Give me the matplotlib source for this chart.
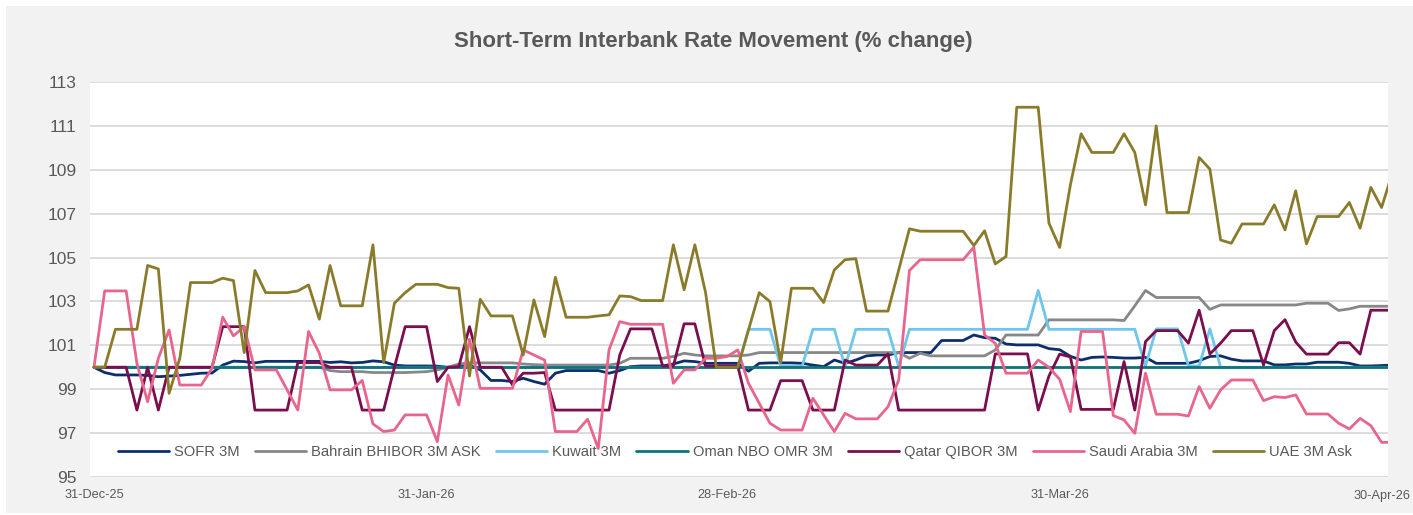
import pandas as pd
import matplotlib.pyplot as plt
import matplotlib.dates as mdates
from matplotlib.patches import Rectangle

# daily observations, 31-Dec-25 .. 01-May-26
dates = pd.date_range('2025-12-31', '2026-05-01', freq='D')

sofr = [100.0, 99.76, 99.65, 99.65, 99.65, 99.63, 99.57, 99.6, 99.63, 99.68,
        99.73, 99.74, 100.1, 100.28, 100.26, 100.2, 100.27, 100.27, 100.27, 100.27,
        100.27, 100.27, 100.22, 100.25, 100.2, 100.22, 100.29, 100.25, 100.1, 100.06,
        100.06, 100.06, 100.05, 100.0, 100.03, 100.1, 99.88, 99.4, 99.4, 99.35,
        99.5, 99.35, 99.23, 99.73, 99.85, 99.85, 99.85, 99.85, 99.73, 99.85,
        100.03, 100.06, 100.06, 100.06, 100.15, 100.29, 100.26, 100.18, 100.18, 100.18,
        100.18, 99.82, 100.18, 100.2, 100.2, 100.2, 100.18, 100.1, 100.03, 100.33,
        100.18, 100.33, 100.52, 100.56, 100.56, 100.67, 100.67, 100.67, 100.67, 101.22,
        101.22, 101.22, 101.47, 101.35, 101.32, 101.06, 101.02, 101.02, 101.02, 100.85,
        100.8, 100.5, 100.33, 100.45, 100.47, 100.45, 100.42, 100.42, 100.45, 100.18,
        100.18, 100.18, 100.18, 100.3, 100.49, 100.52, 100.37, 100.29, 100.29, 100.29,
        100.11, 100.11, 100.15, 100.15, 100.23, 100.23, 100.23, 100.18, 100.06, 100.06,
        100.08, 100.1]

bahrain = [100.0, 100.0, 100.0, 100.0, 100.0, 100.0, 100.0, 100.0, 100.0, 100.0,
           100.0, 100.0, 100.0, 100.0, 100.0, 100.0, 100.0, 100.0, 100.0, 100.0,
           100.0, 100.0, 99.85, 99.8, 99.8, 99.8, 99.76, 99.76, 99.76, 99.76,
           99.78, 99.8, 99.88, 100.0, 100.15, 100.2, 100.2, 100.2, 100.2, 100.2,
           100.15, 100.12, 100.1, 100.1, 100.1, 100.1, 100.1, 100.1, 100.1, 100.18,
           100.41, 100.41, 100.41, 100.41, 100.49, 100.64, 100.56, 100.52, 100.52, 100.52,
           100.52, 100.56, 100.67, 100.67, 100.67, 100.67, 100.67, 100.67, 100.67, 100.67,
           100.67, 100.67, 100.67, 100.67, 100.67, 100.67, 100.41, 100.64, 100.52, 100.52,
           100.52, 100.52, 100.52, 100.52, 100.79, 101.47, 101.47, 101.47, 101.47, 102.16,
           102.16, 102.16, 102.16, 102.16, 102.16, 102.16, 102.13, 102.8, 103.5, 103.18,
           103.18, 103.18, 103.18, 103.18, 102.64, 102.84, 102.84, 102.84, 102.84, 102.84,
           102.84, 102.84, 102.84, 102.92, 102.92, 102.92, 102.59, 102.66, 102.78, 102.78,
           102.78, 102.78]

kuwait = [100.0, 100.0, 100.0, 100.0, 100.0, 100.0, 100.0, 100.0, 100.0, 100.0,
          100.0, 100.0, 100.0, 100.0, 100.0, 100.0, 100.0, 100.0, 100.0, 100.0,
          100.0, 100.0, 100.0, 100.0, 100.0, 100.0, 100.0, 100.0, 100.0, 100.0,
          100.0, 100.0, 100.0, 100.0, 100.0, 100.0, 100.0, 100.0, 100.0, 100.0,
          100.0, 100.0, 100.0, 100.0, 100.0, 100.0, 100.0, 100.0, 100.0, 100.0,
          100.0, 100.0, 100.0, 100.0, 100.0, 100.0, 100.0, 100.0, 100.0, 100.0,
          100.0, 101.73, 101.73, 101.73, 100.05, 100.05, 100.05, 101.73, 101.73, 101.73,
          100.02, 101.73, 101.73, 101.73, 101.73, 100.03, 101.73, 101.73, 101.73, 101.73,
          101.73, 101.73, 101.73, 101.73, 101.73, 101.73, 101.73, 101.73, 103.5, 101.73,
          101.73, 101.73, 101.73, 101.73, 101.73, 101.73, 101.73, 101.73, 100.06, 101.75,
          101.75, 101.75, 100.06, 100.06, 101.75, 100.0, 100.0, 100.0, 100.0, 100.0,
          100.0, 100.0, 100.0, 100.0, 100.0, 100.0, 100.0, 100.0, 100.0, 100.0,
          100.0, 100.0]

oman = [100.0, 100.0, 100.0, 100.0, 100.0, 100.0, 100.0, 100.0, 100.0, 100.0,
        100.0, 100.0, 100.0, 100.0, 100.0, 100.0, 100.0, 100.0, 100.0, 100.0,
        100.0, 100.0, 100.0, 100.0, 100.0, 100.0, 100.0, 100.0, 100.0, 100.0,
        100.0, 100.0, 100.0, 100.0, 100.0, 100.0, 100.0, 100.0, 100.0, 100.0,
        100.0, 100.0, 100.0, 100.0, 100.0, 100.0, 100.0, 100.0, 100.0, 100.0,
        100.0, 100.0, 100.0, 100.0, 100.0, 100.0, 100.0, 100.0, 100.0, 100.0,
        100.0, 100.0, 100.0, 100.0, 100.0, 100.0, 100.0, 100.0, 100.0, 100.0,
        100.0, 100.0, 100.0, 100.0, 100.0, 100.0, 100.0, 100.0, 100.0, 100.0,
        100.0, 100.0, 100.0, 100.0, 100.0, 100.0, 100.0, 100.0, 100.0, 100.0,
        100.0, 100.0, 100.0, 100.0, 100.0, 100.0, 100.0, 100.0, 100.0, 100.0,
        100.0, 100.0, 100.0, 100.0, 100.0, 100.0, 100.0, 100.0, 100.0, 100.0,
        100.0, 100.0, 100.0, 100.0, 100.0, 100.0, 100.0, 100.0, 100.0, 100.0,
        100.0, 100.0]

qatar = [100.0, 100.0, 100.0, 100.0, 98.05, 100.0, 98.05, 100.0, 100.0, 100.0,
         100.0, 100.0, 101.85, 101.85, 101.85, 98.05, 98.05, 98.05, 98.05, 100.21,
         100.21, 100.21, 100.0, 100.0, 100.0, 98.05, 98.05, 98.05, 100.0, 101.85,
         101.85, 101.85, 99.35, 100.0, 100.03, 101.85, 100.0, 100.0, 100.0, 99.2,
         99.73, 99.73, 99.76, 98.05, 98.05, 98.05, 98.05, 98.05, 98.05, 100.56,
         101.75, 101.75, 101.75, 100.06, 100.06, 101.98, 101.98, 100.06, 100.06, 100.06,
         100.06, 98.05, 98.05, 98.05, 99.39, 99.39, 99.39, 98.05, 98.05, 98.05,
         100.33, 100.1, 100.1, 100.1, 100.61, 98.05, 98.05, 98.05, 98.05, 98.05,
         98.05, 98.05, 98.05, 98.05, 100.61, 100.61, 100.61, 100.61, 98.05, 99.6,
         100.6, 100.47, 98.08, 98.08, 98.08, 98.08, 100.26, 98.05, 101.17, 101.67,
         101.67, 101.67, 101.1, 102.6, 100.6, 101.1, 101.67, 101.67, 101.67, 100.1,
         101.67, 102.17, 101.15, 100.6, 100.6, 100.6, 101.12, 101.12, 100.6, 102.6,
         102.6, 102.6]

saudi = [100.0, 103.48, 103.48, 103.48, 100.18, 98.43, 100.41, 101.7, 99.19, 99.19,
         99.19, 99.95, 102.28, 101.43, 101.85, 99.88, 99.88, 99.88, 98.97, 98.05,
         101.63, 100.64, 98.97, 98.97, 98.97, 99.4, 97.42, 97.07, 97.14, 97.83,
         97.83, 97.83, 96.61, 99.65, 98.28, 101.28, 99.04, 99.04, 99.04, 99.04,
         100.79, 100.56, 100.33, 97.07, 97.07, 97.07, 97.63, 96.3, 100.79, 102.08,
         101.96, 101.96, 101.96, 101.96, 99.27, 99.88, 99.88, 100.41, 100.41, 100.49,
         100.79, 99.27, 98.36, 97.45, 97.14, 97.14, 97.14, 98.59, 97.83, 97.07,
         97.9, 97.65, 97.65, 97.65, 98.2, 99.42, 104.41, 104.9, 104.9, 104.9,
         104.9, 104.9, 105.47, 101.47, 101.09, 99.73, 99.73, 99.73, 100.33, 100.0,
         99.45, 97.98, 101.63, 101.63, 101.63, 97.8, 97.6, 96.99, 99.73, 97.86,
         97.86, 97.86, 97.78, 99.12, 98.13, 98.97, 99.42, 99.42, 99.42, 98.48,
         98.66, 98.62, 98.74, 97.87, 97.87, 97.87, 97.45, 97.19, 97.67, 97.34,
         96.58, 96.58]

uae = [100.0, 100.0, 101.73, 101.73, 101.73, 104.64, 104.48, 98.81, 100.41, 103.86,
       103.86, 103.86, 104.06, 103.95, 100.67, 104.41, 103.4, 103.4, 103.4, 103.48,
       103.75, 102.19, 104.64, 102.8, 102.8, 102.8, 105.58, 100.21, 102.92, 103.4,
       103.78, 103.78, 103.78, 103.63, 103.6, 99.6, 103.1, 102.34, 102.34, 102.34,
       100.56, 103.07, 101.4, 104.1, 102.28, 102.28, 102.28, 102.34, 102.39, 103.25,
       103.22, 103.04, 103.04, 103.04, 105.58, 103.53, 105.58, 103.4, 100.0, 100.0,
       100.0, 101.7, 103.4, 102.99, 100.21, 103.6, 103.6, 103.6, 102.95, 104.44,
       104.9, 104.95, 102.56, 102.56, 102.56, 104.43, 106.31, 106.2, 106.2, 106.2,
       106.2, 106.2, 105.55, 106.22, 104.71, 105.05, 111.85, 111.85, 111.85, 106.57,
       105.46, 108.31, 110.64, 109.79, 109.79, 109.79, 110.64, 109.79, 107.4, 111.0,
       107.05, 107.05, 107.05, 109.56, 109.03, 105.8, 105.65, 106.53, 106.53, 106.53,
       107.4, 106.26, 108.04, 105.62, 106.87, 106.87, 106.87, 107.51, 106.34, 108.2,
       107.28, 108.84]

labels = ['SOFR 3M', 'Bahrain BHIBOR 3M ASK', 'Kuwait 3M', 'Oman NBO OMR 3M',
          'Qatar QIBOR 3M', 'Saudi Arabia 3M', 'UAE 3M Ask']
colors = ['#0c2f6b', '#878787', '#6ec6ec', '#0b7479', '#7a0e4e', '#e8658c', '#8a7b2b']
tick_dates = ['2025-12-31', '2026-01-31', '2026-02-28', '2026-03-31', '2026-04-30']

sans = ['Liberation Sans', 'DejaVu Sans']
txt = '#595959'

W, H = 1413, 515
fig = plt.figure(figsize=(W / 100, H / 100), dpi=100, facecolor='white')
fig.patches.append(Rectangle((6 / W, 2 / H), (W - 6) / W, (H - 8) / H,
                             transform=fig.transFigure, facecolor='#f2f2f2',
                             edgecolor='none', zorder=-10))

ax = fig.add_axes([90 / W, 38 / H, 1298 / W, 395 / H])
ax.set_facecolor('white')

for vals, lab, col in zip([sofr, bahrain, kuwait, oman, qatar, saudi, uae], labels, colors):
    ax.plot(dates, vals, color=col, lw=2.0, label=lab,
            solid_joinstyle='round', solid_capstyle='round')

x0 = mdates.date2num(dates[0])
ax.set_xlim(x0 - 0.37, x0 + 120.6)
ax.set_ylim(95, 113)
ax.set_yticks(range(95, 114, 2))
ax.set_xticks(mdates.date2num(pd.to_datetime(tick_dates)))
ax.xaxis.set_major_formatter(mdates.DateFormatter('%d-%b-%y'))

ax.yaxis.grid(True, color='#d9d9d9', lw=1.3)
ax.set_axisbelow(True)
for s in ax.spines.values():
    s.set_visible(False)
ax.tick_params(length=0, colors=txt)
ax.tick_params(axis='y', pad=9.5, labelsize=12.5)
ax.tick_params(axis='x', pad=9, labelsize=9.2)
for t in ax.get_xticklabels() + ax.get_yticklabels():
    t.set_family(sans)

leg = ax.legend(ncol=7, loc='center', bbox_to_anchor=(0.497, 0.063), frameon=False,
                prop={'family': sans, 'size': 10.6},
                handlelength=3.5, handletextpad=0.35, columnspacing=1.0)
for t in leg.get_texts():
    t.set_color(txt)

fig.text(713 / W, 1 - 42 / H, 'Short-Term Interbank Rate Movement (% change)',
         ha='center', va='center', fontsize=16, fontweight='bold', color=txt,
         family=sans)

fig.savefig('out.png', dpi=100, facecolor=fig.get_facecolor())
